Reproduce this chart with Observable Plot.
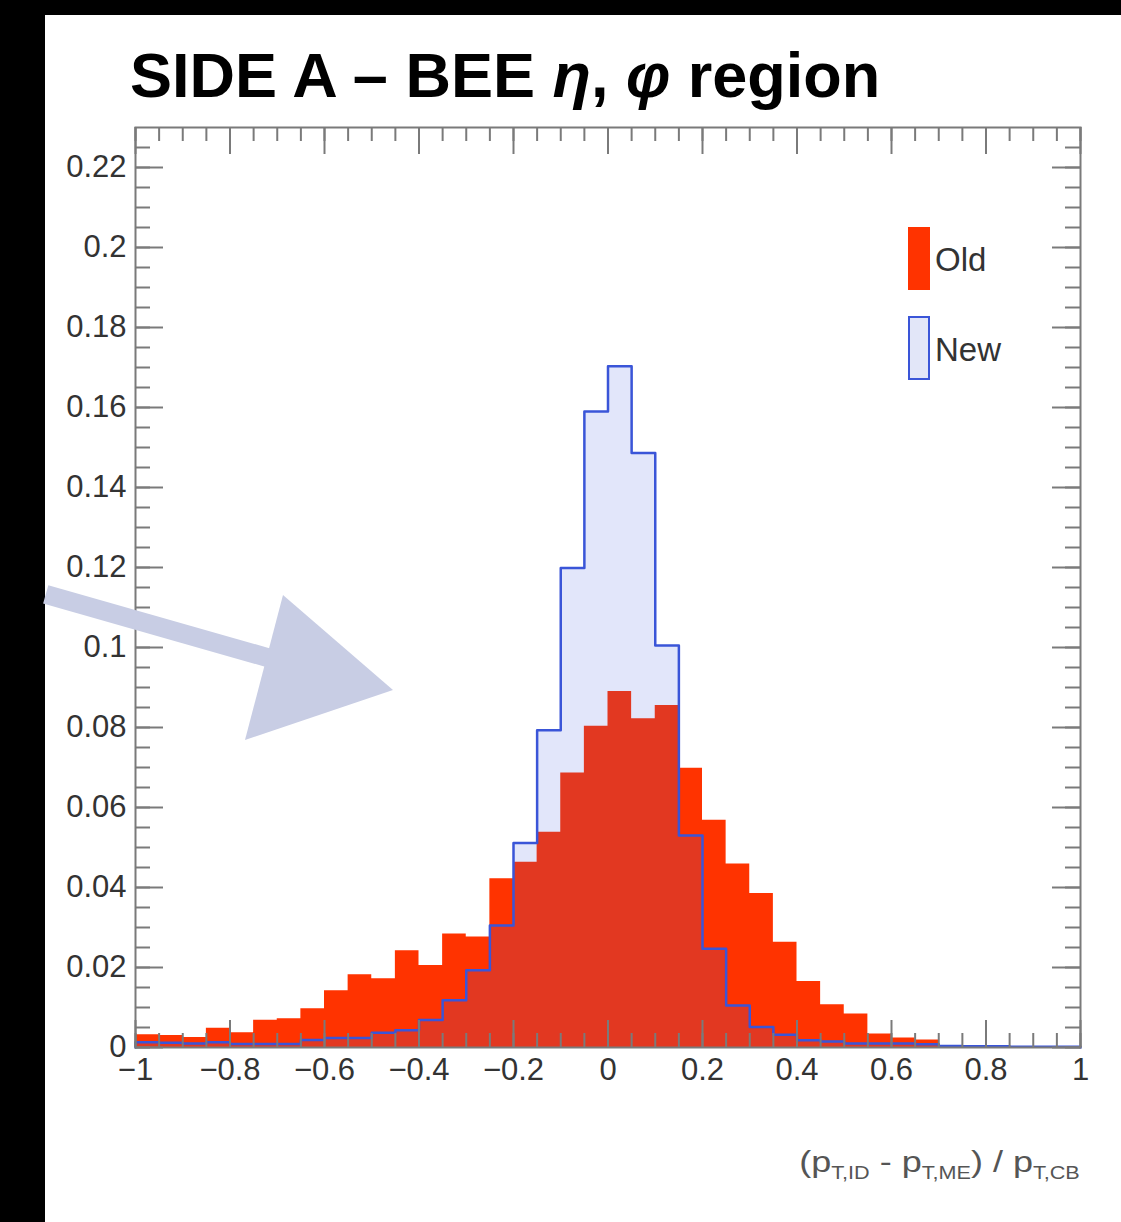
<!DOCTYPE html>
<html>
<head>
<meta charset="utf-8">
<script src="https://cdn.jsdelivr.net/npm/d3@7"></script>
<script src="https://cdn.jsdelivr.net/npm/@observablehq/plot@0.6"></script>
<style>
  html, body { margin: 0; padding: 0; background: #000; }
  #page { position: relative; width: 1121px; height: 1222px; background: #000; overflow: hidden; }
  #white { position: absolute; left: 45px; top: 15px; width: 1076px; height: 1207px; background: #fff; }
  #chart { position: absolute; left: 45px; top: 15px; }
  #title { position: absolute; left: 130px; top: 44px; font-family: "Liberation Sans", Arial, sans-serif; font-weight: bold; font-size: 63px; line-height: 63px; color: #000; white-space: nowrap; letter-spacing: 0px; }
  #title i { font-style: italic; }
  .legbox { position: absolute; left: 908px; width: 22px; box-sizing: border-box; }
  .legtxt { position: absolute; left: 935px; font-family: "Liberation Sans", Arial, sans-serif; font-size: 33px; color: #333; line-height: 33px; }
  #xlabel { position: absolute; right: 41px; top: 1145px; font-family: "Liberation Sans", Arial, sans-serif; font-size: 30px; color: #555; white-space: nowrap; transform: scaleX(1.2); transform-origin: right center; }
  #xlabel sub { font-size: 18px; vertical-align: -7px; }
</style>
</head>
<body>
<div id="page">
  <div id="white"></div>
  <div id="chart"></div>
  <div id="title">SIDE A – BEE <i>η</i>, <i>φ</i> region</div>
  <div class="legbox" style="top:227px;height:63px;background:#ff3300;"></div>
  <div class="legtxt" style="top:243px;">Old</div>
  <div class="legbox" style="top:316px;height:64px;background:#e2e6f8;border:2px solid #3a55d8;"></div>
  <div class="legtxt" style="top:333px;">New</div>
  <div id="xlabel">(p<sub>T,ID</sub> - p<sub>T,ME</sub>) / p<sub>T,CB</sub></div>
</div>
<script>
// Bin lower edges (bin width 0.05, from -1 to 1)
const binStart = [-1, -0.95, -0.9, -0.85, -0.8, -0.75, -0.7, -0.65, -0.6, -0.55,
  -0.5, -0.45, -0.4, -0.35, -0.3, -0.25, -0.2, -0.15, -0.1, -0.05,
  0, 0.05, 0.1, 0.15, 0.2, 0.25, 0.3, 0.35, 0.4, 0.45,
  0.5, 0.55, 0.6, 0.65, 0.7, 0.75, 0.8, 0.85, 0.9, 0.95];
const binEnd = 1;

// "Old" histogram (red, filled)
const oldValues = [0.0032, 0.003, 0.0025, 0.0048, 0.0037, 0.0068, 0.0072, 0.0097, 0.0142, 0.0182,
  0.0172, 0.0242, 0.0205, 0.0284, 0.0276, 0.0422, 0.0463, 0.0538, 0.0686, 0.0803,
  0.089, 0.0822, 0.0855, 0.0698, 0.0568, 0.0459, 0.0385, 0.0263, 0.0165, 0.0107,
  0.0084, 0.0034, 0.0024, 0.0019, 0, 0, 0, 0, 0, 0];

// "New" histogram (blue outline, light fill)
const newValues = [0.0013, 0.0012, 0.001, 0.0013, 0.0009, 0.0009, 0.0009, 0.0019, 0.0024, 0.0024,
  0.0037, 0.0043, 0.0069, 0.0118, 0.0193, 0.0305, 0.0511, 0.0793, 0.1199, 0.159,
  0.1703, 0.1486, 0.1005, 0.053, 0.0247, 0.0105, 0.0051, 0.0032, 0.0018, 0.0015,
  0.001, 0.001, 0.001, 0.0008, 0.0004, 0.0003, 0.0003, 0.0002, 0.0002, 0.0002];

// Axis ticks
const xMajor = [-1, -0.8, -0.6, -0.4, -0.2, 0, 0.2, 0.4, 0.6, 0.8, 1];
const xMinor = binStart.concat([binEnd]);
const yMajor = [0, 0.02, 0.04, 0.06, 0.08, 0.1, 0.12, 0.14, 0.16, 0.18, 0.2, 0.22];
const yMinor = d3.range(0, 46).map(i => +(i * 0.005).toFixed(3));

// Hand-drawn annotation arrow (data coordinates)
const arrowShaft = [{x: -1.19, y: 0.1133}, {x: -0.715, y: 0.0973}];
const arrowHead = [
  {x1: -0.6868, y1: 0.113, x2: -0.7672, y2: 0.07675},
  {x1: -0.454, y1: 0.08925, x2: -0.454, y2: 0.08925}
];

function steps(values) {
  const pts = binStart.map((x, i) => ({x, y: values[i]}));
  pts.push({x: binEnd, y: values[values.length - 1]});
  return pts;
}
const oldPts = steps(oldValues);
const newPts = steps(newValues);
const newOutline = [{x: binStart[0], y: 0}, ...newPts, {x: binEnd, y: 0}];

const W = 1076, H = 1110, ML = 90, MR = 41, MT = 112, MB = 78;
const fw = W - ML - MR, fh = H - MT - MB;
const axisColor = "#7a7a7a";
const fmt = d => (d < 0 ? "\u2212" : "") + String(Math.abs(d));

const chart = Plot.plot({
  width: W, height: H,
  marginLeft: ML, marginRight: MR, marginTop: MT, marginBottom: MB,
  style: {background: "white", fontFamily: "Liberation Sans, Arial, sans-serif", overflow: "visible"},
  x: {domain: [-1, 1], label: null},
  y: {domain: [0, 0.23], label: null},
  marks: [
    Plot.areaY(oldPts, {x: "x", y: "y", curve: "step-after", fill: "#ff3300"}),
    Plot.areaY(newPts, {x: "x", y: "y", curve: "step-after", fill: "#3c5adc", fillOpacity: 0.15}),
    Plot.line(newOutline, {x: "x", y: "y", curve: "step-after", stroke: "#3a55d8", strokeWidth: 2.5}),
    // inward ticks, bottom & top
    Plot.tickX(xMinor, {x: d => d, insetTop: fh - 14, stroke: axisColor, strokeWidth: 2}),
    Plot.tickX(xMajor, {x: d => d, insetTop: fh - 27, stroke: axisColor, strokeWidth: 2}),
    Plot.tickX(xMinor, {x: d => d, insetBottom: fh - 14, stroke: axisColor, strokeWidth: 2}),
    Plot.tickX(xMajor, {x: d => d, insetBottom: fh - 27, stroke: axisColor, strokeWidth: 2}),
    // inward ticks, left & right
    Plot.tickY(yMinor, {y: d => d, insetRight: fw - 15, stroke: axisColor, strokeWidth: 2}),
    Plot.tickY(yMajor, {y: d => d, insetRight: fw - 28, stroke: axisColor, strokeWidth: 2}),
    Plot.tickY(yMinor, {y: d => d, insetLeft: fw - 15, stroke: axisColor, strokeWidth: 2}),
    Plot.tickY(yMajor, {y: d => d, insetLeft: fw - 28, stroke: axisColor, strokeWidth: 2}),
    Plot.frame({stroke: axisColor, strokeWidth: 2}),
    Plot.axisX({anchor: "bottom", ticks: xMajor, tickSize: 0, tickPadding: 10, tickFormat: fmt, fontSize: 31, fill: "#333", label: null}),
    Plot.axisY({anchor: "left", ticks: yMajor, tickSize: 0, tickPadding: 9, tickFormat: d => String(d), fontSize: 31, fill: "#333", label: null}),
    Plot.line(arrowShaft, {x: "x", y: "y", stroke: "#c8cde4", strokeWidth: 19, strokeLinecap: "butt"}),
    Plot.area(arrowHead, {x1: "x1", y1: "y1", x2: "x2", y2: "y2", fill: "#c8cde4"})
  ]
});
document.getElementById("chart").appendChild(chart);
</script>
</body>
</html>
